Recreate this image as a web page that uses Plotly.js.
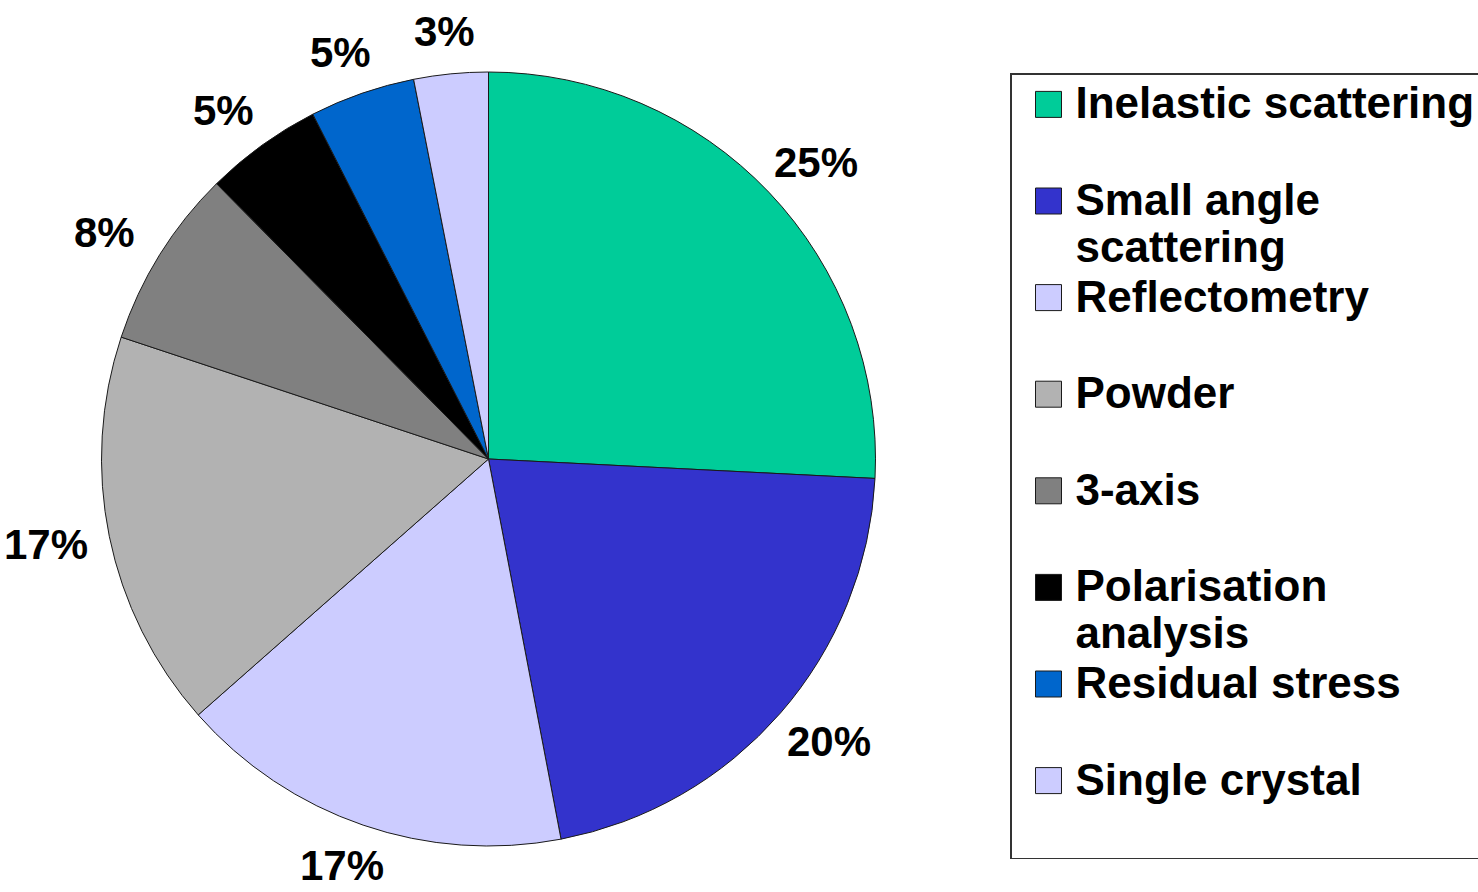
<!DOCTYPE html>
<html>
<head>
<meta charset="utf-8">
<script src="https://cdn.plot.ly/plotly-3.0.1.min.js"></script>
<style>
  html, body { margin: 0; padding: 0; background: #ffffff; }
  #chart { width: 1478px; height: 892px; }
</style>
</head>
<body>
<div id="chart"></div>
<script>
// Categories (legend order, clockwise from 12 o'clock)
const categories = [
  "Inelastic scattering",
  "Small angle<br>scattering",
  "Reflectometry",
  "Powder",
  "3-axis",
  "Polarisation<br>analysis",
  "Residual stress",
  "Single crystal"
];
// Slice sizes (percent)
const shares = [25.8, 21.2, 16.5, 16.6, 7.5, 4.9, 4.4, 3.1];
// Printed percentage labels
const pctLabels = ["25%", "20%", "17%", "17%", "8%", "5%", "5%", "3%"];
// Slice colours
const sliceColors = ["#00CC99", "#3333CC", "#CCCCFF", "#B2B2B2", "#808080", "#000000", "#0066CC", "#CCCCFF"];

const W = 1478, H = 892;
const FONT = "Liberation Sans, Arial, sans-serif";

// Pie geometry (domain in paper fractions)
const dom = { x: [101 / W, 876 / W], y: [46 / H, 820 / H] };
const cx = (dom.x[0] + dom.x[1]) / 2 * W;
const cyTop = (1 - (dom.y[0] + dom.y[1]) / 2) * H;
const rad = Math.min((dom.x[1] - dom.x[0]) * W, (dom.y[1] - dom.y[0]) * H) / 2;
// Label placement distance (outside the rim), horizontal / vertical
const labelRx = rad + 65, labelRy = rad + 43;

const legendNames = categories.map(c => {
  const txt = c.indexOf("<br>") >= 0 ? c : c + "<br>&nbsp;";
  return '<span style="font-size:44px">' + txt + '</span>';
});

// Percentage labels at each slice's mid-angle (computed from the shares)
const total = shares.reduce((a, b) => a + b, 0);
let cum = 0;
const annotations = shares.map((v, i) => {
  const mid = (cum + v / 2) / total * 2 * Math.PI;
  cum += v;
  const px = cx + labelRx * Math.sin(mid);
  const py = cyTop - labelRy * Math.cos(mid);
  return {
    text: pctLabels[i], xref: "paper", yref: "paper",
    x: px / W, y: 1 - py / H, xanchor: "center", yanchor: "middle",
    showarrow: false,
    font: { family: FONT, size: 42, color: "#000000", weight: "bold" }
  };
});

const trace = {
  type: "pie",
  labels: legendNames,
  values: shares,
  textinfo: "none",
  sort: false,
  direction: "clockwise",
  rotation: 0,
  marker: { colors: sliceColors, line: { color: "#1a1a1a", width: 1 } },
  hoverinfo: "none",
  domain: dom
};

const layout = {
  width: W,
  height: H,
  margin: { l: 0, r: 0, t: 0, b: 0, autoexpand: false },
  paper_bgcolor: "#ffffff",
  showlegend: true,
  annotations: annotations,
  legend: {
    x: 1010 / W, xanchor: "left",
    y: 1 - 73 / H, yanchor: "top",
    bordercolor: "#333333",
    borderwidth: 1.5,
    bgcolor: "#ffffff",
    valign: "top",
    itemwidth: 54,
    font: { family: FONT, size: 36, color: "#000000", weight: "bold" },
    traceorder: "normal"
  },
  font: { family: FONT }
};

Plotly.newPlot("chart", [trace], layout, { displayModeBar: false, staticPlot: true }).then(() => {
  document.querySelectorAll("path.legendpie").forEach(p => p.setAttribute("d", "M18,13V-13H-8V13Z"));
});
</script>
</body>
</html>
